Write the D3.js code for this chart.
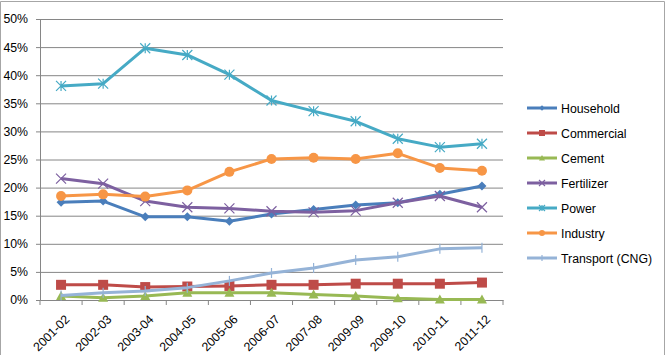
<!DOCTYPE html>
<html>
<head>
<meta charset="utf-8">
<script src="https://cdn.jsdelivr.net/npm/d3@7"></script>
<style>
  body { margin: 0; background: #fff; }
  text { font-family: "Liberation Sans", Arial, sans-serif; fill: #000; }
</style>
</head>
<body>
<svg id="chart" width="669" height="356"></svg>
<script>
const years = ["2001-02", "2002-03", "2003-04", "2004-05", "2005-06", "2006-07",
  "2007-08", "2009-09", "2009-10", "2010-11", "2011-12"];

const household = [17.4, 17.6, 14.8, 14.8, 14.0, 15.3, 16.1, 16.9, 17.3, 18.8, 20.3];
const commercial = [2.7, 2.7, 2.3, 2.4, 2.5, 2.7, 2.7, 2.9, 2.9, 2.9, 3.1];
const cement = [0.7, 0.4, 0.7, 1.3, 1.3, 1.3, 1.0, 0.7, 0.3, 0.1, 0.1];
const fertilizer = [21.6, 20.7, 17.6, 16.5, 16.3, 15.8, 15.6, 15.9, 17.3, 18.5, 16.5];
const power = [38.1, 38.5, 44.8, 43.6, 40.1, 35.5, 33.6, 31.8, 28.7, 27.2, 27.8];
const industry = [18.5, 18.8, 18.4, 19.5, 22.8, 25.1, 25.3, 25.1, 26.1, 23.5, 23.0];
const transport = [0.8, 1.3, 1.6, 2.2, 3.4, 4.8, 5.7, 7.1, 7.7, 9.1, 9.3];

const yTicks = [0, 5, 10, 15, 20, 25, 30, 35, 40, 45, 50];

const series = [
  { name: "Household", values: household, color: "#4a7ebb", marker: "diamond" },
  { name: "Commercial", values: commercial, color: "#be4b48", marker: "square" },
  { name: "Cement", values: cement, color: "#98b954", marker: "triangle" },
  { name: "Fertilizer", values: fertilizer, color: "#7d60a0", marker: "x" },
  { name: "Power", values: power, color: "#46aac5", marker: "star" },
  { name: "Industry", values: industry, color: "#f79646", marker: "circle" },
  { name: "Transport (CNG)", values: transport, color: "#95b3d7", marker: "plus" }
];

const svg = d3.select("#chart");
const margin = { top: 19, left: 40, right: 166, bottom: 56 };
const width = +svg.attr("width");
const height = +svg.attr("height");
const innerWidth = width - margin.left - margin.right;
const innerHeight = height - margin.top - margin.bottom;
const fontSize = 12.3;

// outer border (top, right, left edges of the chart frame)
svg.append("path")
  .attr("d", "M0.5,355V1.5H664.5V355")
  .attr("fill", "none").attr("stroke", "#a6a6a6");

const xScale = d3.scaleBand().domain(years).range([0, innerWidth]);
const yScale = d3.scaleLinear().domain([0, 50]).range([innerHeight, 0]);
const xPos = (i) => xScale(years[i]) + xScale.bandwidth() / 2;

const chart = svg.append("g")
  .attr("transform", `translate(${margin.left},${margin.top})`);

// y axis + grid
const yAxis = d3.axisLeft(yScale).tickValues(yTicks).tickFormat((d) => d + "%").tickSize(4).tickPadding(8);
const yg = chart.append("g").call(yAxis);
yg.select(".domain").attr("stroke", "#868686");
yg.selectAll(".tick line").attr("stroke", "#868686");
yg.selectAll(".tick text").attr("font-size", fontSize).attr("font-family", "Liberation Sans, Arial, sans-serif");
yg.selectAll(".tick").filter((d) => d > 0)
  .append("line")
  .attr("x1", 0).attr("x2", innerWidth)
  .attr("stroke", "#868686");

// x axis
const xAxis = d3.axisBottom(xScale).tickSize(0).tickPadding(0);
const xg = chart.append("g")
  .attr("transform", `translate(0,${innerHeight})`)
  .call(xAxis);
xg.select(".domain").attr("stroke", "#868686");
xg.selectAll(".tick text")
  .attr("font-size", fontSize)
  .attr("font-family", "Liberation Sans, Arial, sans-serif")
  .attr("text-anchor", "end")
  .attr("transform", "translate(3,14) rotate(-45)")
  .attr("dy", "0.71em");
xg.selectAll(".bnd")
  .data(d3.range(years.length + 1))
  .join("line")
  .attr("class", "bnd")
  .attr("x1", (i) => i * xScale.step()).attr("x2", (i) => i * xScale.step())
  .attr("y1", 0).attr("y2", 5)
  .attr("stroke", "#868686");

function drawMarker(g, type, color, s) {
  if (type === "diamond") {
    g.append("path").attr("d", `M0,${-s}L${s},0L0,${s}L${-s},0Z`).attr("fill", color);
  } else if (type === "square") {
    g.append("rect").attr("x", -s).attr("y", -s).attr("width", 2 * s).attr("height", 2 * s).attr("fill", color);
  } else if (type === "triangle") {
    g.append("path").attr("d", `M0,${-s}L${s},${s * 0.8}L${-s},${s * 0.8}Z`).attr("fill", color);
  } else if (type === "circle") {
    g.append("circle").attr("r", s).attr("fill", color);
  } else if (type === "x") {
    g.append("path").attr("d", `M${-s},${-s}L${s},${s}M${-s},${s}L${s},${-s}`)
      .attr("stroke", color).attr("stroke-width", 1.2);
  } else if (type === "star") {
    g.append("path").attr("d", `M${-s},${-s}L${s},${s}M${-s},${s}L${s},${-s}M0,${-s}L0,${s}`)
      .attr("stroke", color).attr("stroke-width", 1.2);
  } else if (type === "plus") {
    g.append("path").attr("d", `M0,${-s}L0,${s}`)
      .attr("stroke", color).attr("stroke-width", 1.2);
  }
}

const markerSize = { diamond: 4.5, square: 5, triangle: 5, circle: 5, x: 5, star: 5, plus: 5 };

const line = d3.line().x((d, i) => xPos(i)).y((d) => yScale(d));

series.forEach((s) => {
  chart.append("path")
    .datum(s.values)
    .attr("d", line)
    .attr("fill", "none")
    .attr("stroke", s.color)
    .attr("stroke-width", 3)
    .attr("stroke-linejoin", "round");
  s.values.forEach((v, i) => {
    const g = chart.append("g").attr("transform", `translate(${xPos(i)},${yScale(v)})`);
    drawMarker(g, s.marker, s.color, markerSize[s.marker]);
  });
});

// legend
const legend = svg.append("g").attr("transform", "translate(527,108)");
series.forEach((s, i) => {
  const g = legend.append("g").attr("transform", `translate(0,${i * 25})`);
  g.append("line").attr("x1", 0).attr("x2", 30).attr("stroke", s.color).attr("stroke-width", 3);
  const m = g.append("g").attr("transform", "translate(15,0)");
  drawMarker(m, s.marker, s.color, markerSize[s.marker] * 0.6);
  g.append("text").attr("x", 34).attr("y", 4.5).attr("font-size", fontSize).text(s.name);
});
</script>
</body>
</html>
